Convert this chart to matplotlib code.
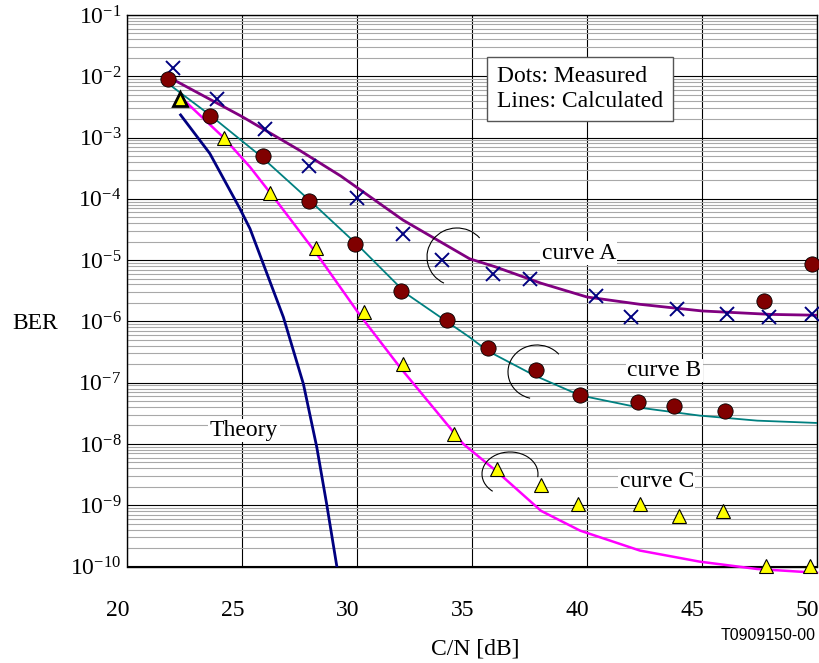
import matplotlib
matplotlib.use("Agg")
import matplotlib.pyplot as plt
import matplotlib.transforms as mtransforms
from matplotlib.patches import Arc
import numpy as np

plt.rcParams['font.family'] = ['Liberation Serif', 'DejaVu Serif']
plt.rcParams['mathtext.fontset'] = 'custom'
plt.rcParams['mathtext.rm'] = 'Liberation Serif'
plt.rcParams['mathtext.it'] = 'Liberation Serif'
plt.rcParams['mathtext.default'] = 'regular'

# measured points (dots)
a_meas_x = [22.0, 23.9, 26.0, 27.9, 30.0, 32.0, 33.7, 35.9, 37.5, 40.4, 41.9, 43.9, 46.1, 47.9, 49.8]
a_meas_y = [1.35e-2, 4.2e-3, 1.4e-3, 3.45e-4, 1.03e-4, 2.7e-5, 1.0e-5, 6.0e-6, 5.0e-6,
            2.6e-6, 1.2e-6, 1.6e-6, 1.3e-6, 1.2e-6, 1.3e-6]

b_meas_x = [21.8, 23.6, 25.9, 27.9, 29.9, 31.9, 33.9, 35.7, 37.8, 39.7, 42.2, 43.8, 46.0, 47.7, 49.8]
b_meas_y = [9.0e-3, 2.26e-3, 5.0e-4, 9.3e-5, 1.86e-5, 3.1e-6, 1.07e-6, 3.7e-7, 1.62e-7,
            6.4e-8, 4.9e-8, 4.15e-8, 3.4e-8, 2.15e-6, 8.5e-6]

c_meas_x = [22.3, 24.2, 26.2, 28.2, 30.3, 32.0, 34.2, 36.1, 38.0, 39.6, 42.3, 44.0, 45.9, 47.8, 49.7]
c_meas_y = [4.25e-3, 9.8e-4, 1.26e-4, 1.55e-5, 1.45e-6, 2.0e-7, 1.46e-8, 3.9e-9, 2.17e-9,
            1.05e-9, 1.05e-9, 6.7e-10, 7.9e-10, 1.0e-10, 1.0e-10]

# calculated curves (lines)
a_line_x = [21.9, 25.0, 27.5, 29.3, 32.0, 34.9, 36.0, 38.0, 40.0, 42.3, 45.0, 48.0, 50.0]
a_line_y = [9.3e-3, 2.2e-3, 6.2e-4, 2.35e-4, 4.5e-5, 1.05e-5, 7.8e-6, 4.2e-6, 2.5e-6,
            1.9e-6, 1.48e-6, 1.3e-6, 1.26e-6]

b_line_x = [21.87, 23.6, 25.78, 28.1, 30.13, 32.16, 34.9, 35.7, 37.7, 39.7, 42.3, 44.9, 47.4, 50.0]
b_line_y = [7.2e-3, 2.34e-3, 5.1e-4, 8.3e-5, 1.62e-5, 2.8e-6, 5.5e-7, 3.27e-7, 1.32e-7,
            6.2e-8, 3.9e-8, 2.9e-8, 2.4e-8, 2.2e-8]

c_line_x = [22.3, 24.2, 25.35, 26.43, 28.25, 30.13, 31.87, 34.62, 36.1, 38.0, 39.7, 42.3, 44.9, 47.4, 50.0]
c_line_y = [4.7e-3, 1.0e-3, 3.3e-4, 1.0e-4, 1.26e-5, 1.26e-6, 1.78e-7, 1.0e-8, 3.5e-9,
            8.1e-10, 3.85e-10, 1.82e-10, 1.2e-10, 9.1e-11, 7.9e-11]

theory_x = [22.33, 23.6, 24.91, 25.35, 26.8, 27.67, 28.25, 28.68, 29.12]
theory_y = [2.34e-3, 5.5e-4, 6.9e-5, 3.24e-5, 1.17e-6, 9.5e-8, 8.9e-9, 1.05e-9, 1.02e-10]

fig = plt.figure(figsize=(8.19, 6.63), dpi=100)
ax = fig.add_axes([127/819, 1-566.5/663, 690/819, 551.5/663])

ax.set_yscale('log')
ax.set_xlim(20, 50)
ax.set_ylim(1e-10, 1e-1)

ax.plot(theory_x, theory_y, color='#000080', lw=2.0, zorder=3)
ax.plot(a_line_x, a_line_y, color='#800080', lw=2.0, zorder=3)
ax.plot(b_line_x, b_line_y, color='#008080', lw=1.3, zorder=3)
ax.plot(c_line_x, c_line_y, color='#FF00FF', lw=1.8, zorder=3, clip_on=False)

ax.plot(a_meas_x, a_meas_y, 'x', color='#000080', ms=10, mew=1.4, zorder=5, clip_on=False)
ax.plot(b_meas_x, b_meas_y, 'o', mfc='#800000', mec='black', ms=11, mew=0.6, zorder=5, clip_on=False)
ax.plot(c_meas_x[1:], c_meas_y[1:], '^', mfc='#FFFF00', mec='black', ms=10, mew=0.8, zorder=5, clip_on=False)
ax.plot(c_meas_x[:1], c_meas_y[:1], '^', mfc='#FFFF00', mec='black', ms=10, mew=2.0, zorder=5, clip_on=False)

# grid
ax.set_xticks([20, 25, 30, 35, 40, 45, 50])
ax.set_yticks([10.0 ** k for k in range(-10, 0)])
ax.yaxis.set_minor_locator(matplotlib.ticker.LogLocator(base=10, subs=np.arange(2, 10), numticks=100))
ax.yaxis.set_minor_formatter(matplotlib.ticker.NullFormatter())
ax.grid(which='major', color='black', lw=0.8, zorder=1)
ax.grid(which='minor', axis='y', color='#a8a8a8', lw=0.8, zorder=0)
ax.set_axisbelow(True)
ax.tick_params(which='both', length=0)
ax.tick_params(axis='x', pad=24, labelsize=17)
ax.tick_params(axis='y', pad=4, labelsize=17)
for sp in ax.spines.values():
    sp.set_color('black')
    sp.set_linewidth(1.0)

shift = mtransforms.ScaledTranslation(-9.5/100, 0, fig.dpi_scale_trans)
for lab in ax.get_xticklabels():
    lab.set_transform(lab.get_transform() + shift)

# labels
fig.text(12/819, 1-323/663, 'BER', ha='left', va='center', fontsize=17)
fig.text(475/819, 1-649/663, 'C/N [dB]', ha='center', va='center', fontsize=17)
fig.text(816/819, 1-636/663, 'T0909150-00', ha='right', va='center', fontsize=11.5,
         family='Liberation Sans')

wbox = dict(facecolor='white', edgecolor='none', pad=1)
ax.text(39.65, 1.29e-5, 'curve A', ha='center', va='center', fontsize=17, bbox=wbox, zorder=4)
ax.text(43.35, 1.58e-7, 'curve B', ha='center', va='center', fontsize=17, bbox=wbox, zorder=4)
ax.text(43.04, 2.46e-9, 'curve C', ha='center', va='center', fontsize=17, bbox=wbox, zorder=4)
ax.text(25.09, 1.66e-8, 'Theory', ha='center', va='center', fontsize=17, bbox=wbox, zorder=4)
ax.text(36.09, 6.2e-3, 'Dots: Measured\nLines: Calculated', ha='left', va='center', fontsize=17,
        bbox=dict(facecolor='white', edgecolor='#555555', lw=1.0, pad=7), zorder=4)

# hand-drawn brackets
for cx, cy, rx, ry, t1, t2 in [(457, 257, 30, 29, 46, 248),
                               (537, 372, 29, 27, 45, 258),
                               (510, 474, 28, 22, -8, 231)]:
    fig.patches.append(Arc((cx/819, 1-cy/663), 2*rx/819, 2*ry/663, theta1=t1, theta2=t2,
                           transform=fig.transFigure, color='black', lw=0.8, zorder=6))

fig.savefig('out.png', dpi=100)
